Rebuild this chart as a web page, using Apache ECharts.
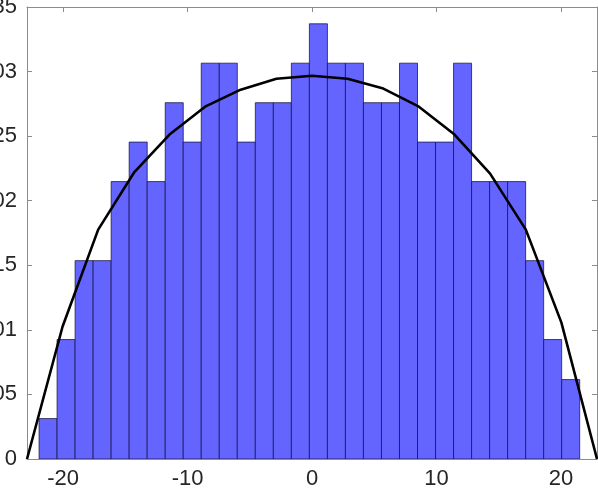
<!DOCTYPE html>
<html>
<head>
<meta charset="utf-8">
<script src="https://cdn.jsdelivr.net/npm/echarts@6/dist/echarts.min.js"></script>
<style>
  html, body { margin: 0; padding: 0; background: #fff; }
  #chart_box { width: 598px; height: 496px; }
</style>
</head>
<body>
<div id="chart_box"></div>
<script>
// histogram bins: left edge of first bin and width
var binStart = -21.93;
var binWidth = 1.448;
// bar heights (probability density)
var density = [
  0.00313, 0.00925, 0.01536, 0.01536, 0.02148, 0.02454, 0.02148, 0.02759,
  0.02454, 0.03065, 0.03065, 0.02454, 0.02759, 0.02759, 0.03065, 0.0337,
  0.03065, 0.03065, 0.02759, 0.02759, 0.03065, 0.02454, 0.02454, 0.03065,
  0.02148, 0.02148, 0.02148, 0.01536, 0.00925, 0.00615
];
// fitted curve points
var fitX = [-22.9, -20.04, -17.18, -14.31, -11.45, -8.59, -5.73, -2.86, 0,
  2.86, 5.73, 8.59, 11.45, 14.31, 17.18, 20.04, 22.9];
var fitY = [0, 0.01026, 0.01776, 0.02217, 0.02512, 0.02728, 0.0286, 0.02945, 0.02968,
  0.02945, 0.02868, 0.02728, 0.02512, 0.0221, 0.01776, 0.01056, 0];
var xTicks = [-20, -10, 0, 10, 20];

var barData = density.map(function (h, i) {
  var x0 = binStart + i * binWidth;
  return [x0, x0 + binWidth, h];
});
var lineData = fitX.map(function (x, i) { return [x, fitY[i]]; });

var axisColor = "#8c8c8c";
var textColor = "#262626";
var fontName = "Liberation Sans";

var mycharts = echarts.init(document.getElementById("chart_box"));

var option = {
  animation: false,
  grid: { left: 27, right: 1, top: 7, bottom: 37, containLabel: false, outerBoundsMode: "none" },
  xAxis: [
    {
      type: "value", min: -22.9, max: 22.9,
      axisLine: { onZero: false, lineStyle: { color: axisColor, width: 1 } },
      axisTick: { inside: true, length: 5, customValues: xTicks, lineStyle: { color: axisColor } },
      axisLabel: { customValues: xTicks, margin: 9, fontSize: 22, color: textColor, fontFamily: fontName },
      splitLine: { show: false }
    },
    {
      type: "value", position: "top", min: -22.9, max: 22.9,
      axisLine: { onZero: false, lineStyle: { color: axisColor, width: 1 } },
      axisTick: { inside: true, length: 5, customValues: xTicks, lineStyle: { color: axisColor } },
      axisLabel: { show: false },
      splitLine: { show: false }
    }
  ],
  yAxis: [
    {
      type: "value", min: 0, max: 0.035, interval: 0.005,
      axisLine: { show: true, onZero: false, lineStyle: { color: axisColor, width: 1 } },
      axisTick: { show: true, inside: true, length: 5, lineStyle: { color: axisColor } },
      axisLabel: {
        margin: 10, fontSize: 22, color: textColor, fontFamily: fontName,
        formatter: function (v) { return String(parseFloat(v.toFixed(3))); }
      },
      splitLine: { show: false }
    },
    {
      type: "value", position: "right", min: 0, max: 0.035, interval: 0.005,
      axisLine: { show: true, onZero: false, lineStyle: { color: axisColor, width: 1 } },
      axisTick: { show: true, inside: true, length: 5, lineStyle: { color: axisColor } },
      axisLabel: { show: false },
      splitLine: { show: false }
    }
  ],
  series: [
    {
      type: "custom",
      data: barData,
      clip: true,
      renderItem: function (params, api) {
        var p0 = api.coord([api.value(0), api.value(2)]);
        var p1 = api.coord([api.value(1), 0]);
        return {
          type: "rect",
          shape: { x: p0[0], y: p0[1], width: p1[0] - p0[0], height: p1[1] - p0[1] },
          style: { fill: "#6464ff", stroke: "rgba(20,20,60,0.75)", lineWidth: 1 }
        };
      }
    },
    {
      type: "line",
      data: lineData,
      symbol: "none",
      lineStyle: { color: "#000", width: 2.6 },
      z: 5
    }
  ]
};

mycharts.setOption(option);
</script>
</body>
</html>
